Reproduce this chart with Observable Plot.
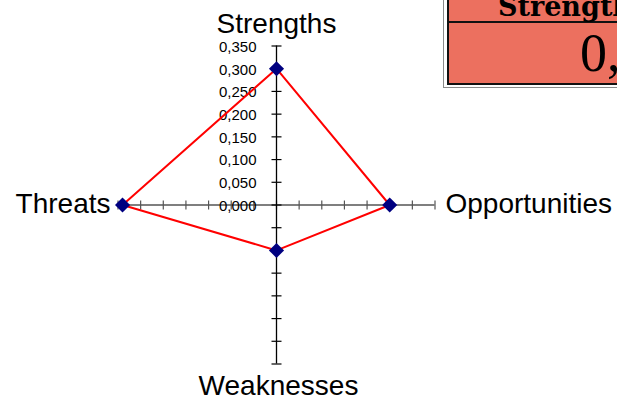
<!DOCTYPE html>
<html>
<head>
<meta charset="utf-8">
<script src="https://cdn.jsdelivr.net/npm/d3@7"></script>
<script src="https://cdn.jsdelivr.net/npm/@observablehq/plot@0.6"></script>
<style>
  html, body { margin: 0; padding: 0; background: #fff; overflow: hidden; }
  #wrap { position: relative; width: 617px; height: 399px; overflow: hidden; font-family: Arial, "Liberation Sans", sans-serif; }
  #wrap svg { position: absolute; left: 0; top: 0; }
  .frame-outer { position: absolute; left: 443px; top: -4px; width: 300px; height: 92px; box-sizing: border-box;
                 border-left: 1px solid #8a8a8a; border-bottom: 1px solid #8a8a8a; background: #fff; }
  .frame-inner { position: absolute; left: 447px; top: -4px; width: 300px; height: 89px; box-sizing: border-box;
                 border-left: 2px solid #111; border-bottom: 2px solid #111; background: #ec705f; }
  .row-rule { position: absolute; left: 447px; top: 21px; width: 300px; height: 2px; background: #111; }
  .cell { position: absolute; white-space: nowrap; color: #000; }
  .cell.head { left: 498px; top: -8.5px; font: bold 27px "DejaVu Serif", serif; line-height: 30px; }
  .cell.value { left: 580px; top: 23px; font: 54px "Liberation Serif", "Times New Roman", serif; line-height: 60px; }
</style>
</head>
<body>
<div id="wrap"></div>
<script>
// SWOT scores, one per axis
const categories = ["Strengths", "Opportunities", "Weaknesses", "Threats"];
const scores = [0.30, 0.25, 0.10, 0.34];
// unit direction of each axis (up, right, down, left)
const directions = [[0, 1], [1, 0], [0, -1], [-1, 0]];

// radial scale ticks
const axisMax = 0.35;
const tickValues = [0, 0.05, 0.10, 0.15, 0.20, 0.25, 0.30, 0.35];
const tickLabels = ["0,000", "0,050", "0,100", "0,150", "0,200", "0,250", "0,300", "0,350"];

// summary table cell
const tableHeader = "Strengths";
const tableValue = "0,30";

const points = categories.map((c, i) => ({
  category: c,
  x: directions[i][0] * scores[i],
  y: directions[i][1] * scores[i]
}));

const ends = categories.map((c, i) => ({
  category: c,
  x: directions[i][0] * axisMax,
  y: directions[i][1] * axisMax
}));

// every tick position along both full axes
const allTicks = tickValues.flatMap(v => v === 0 ? [0] : [v, -v]);

// short line used as an axis tick mark
const tickV = {draw(ctx, size) { const r = Math.sqrt(size / Math.PI); ctx.moveTo(0, -r); ctx.lineTo(0, r); }};
const tickH = {draw(ctx, size) { const r = Math.sqrt(size / Math.PI); ctx.moveTo(-r, 0); ctx.lineTo(r, 0); }};

const font = "Arial, 'Liberation Sans', sans-serif";
const byName = name => ends.filter(d => d.category === name);

const chart = Plot.plot({
  width: 617,
  height: 399,
  margin: 0,
  style: {background: "transparent", fontFamily: font},
  x: {domain: [-axisMax, axisMax], range: [117.5, 434.5], axis: null},
  y: {domain: [-axisMax, axisMax], range: [363.5, 45.5], axis: null},
  marks: [
    // horizontal axis with tick marks
    Plot.ruleY([0], {x1: -axisMax, x2: axisMax, stroke: "#555", strokeWidth: 1.3}),
    Plot.dot(allTicks, {x: d => d, y: 0, symbol: tickV, r: 4.5, stroke: "#555", strokeWidth: 1.2, fill: "none"}),
    // vertical axis with tick marks
    Plot.ruleX([0], {y1: -axisMax, y2: axisMax, stroke: "#000", strokeWidth: 1.3}),
    Plot.dot(allTicks, {x: 0, y: d => d, symbol: tickH, r: 5, stroke: "#000", strokeWidth: 1.2, fill: "none"}),
    // tick labels on the upper half of the vertical axis
    Plot.text(tickValues, {
      x: 0, y: d => d, text: (d, i) => tickLabels[i],
      textAnchor: "end", dx: -20, dy: 1, fontSize: 15, fill: "#000"
    }),
    // score polygon
    Plot.line(points, {x: "x", y: "y", curve: "linear-closed", stroke: "#ff0000", strokeWidth: 2}),
    Plot.dot(points, {x: "x", y: "y", symbol: "diamond2", r: 6.8, fill: "#000080", stroke: "none"}),
    // axis names
    Plot.text(byName("Strengths"), {x: "x", y: "y", text: "category", lineAnchor: "bottom", dy: -13.5, fontSize: 28, fill: "#000"}),
    Plot.text(byName("Weaknesses"), {x: "x", y: "y", text: "category", lineAnchor: "bottom", dx: 2, dy: 31, fontSize: 28, fill: "#000"}),
    Plot.text(byName("Threats"), {x: "x", y: "y", text: "category", lineAnchor: "bottom", textAnchor: "end", dx: -7.5, dy: 7.5, fontSize: 28, fill: "#000"}),
    Plot.text(byName("Opportunities"), {x: "x", y: "y", text: "category", lineAnchor: "bottom", textAnchor: "start", dx: 10.5, dy: 7.5, fontSize: 28, fill: "#000"})
  ]
});

const wrap = document.getElementById("wrap");
wrap.appendChild(chart);

// summary table in the upper right corner
const parts = [
  ["div", "frame-outer", ""],
  ["div", "frame-inner", ""],
  ["div", "row-rule", ""],
  ["div", "cell head", tableHeader],
  ["div", "cell value", tableValue]
];
for (const [tag, cls, text] of parts) {
  const el = document.createElement(tag);
  el.className = cls;
  el.textContent = text;
  wrap.appendChild(el);
}
</script>
</body>
</html>
